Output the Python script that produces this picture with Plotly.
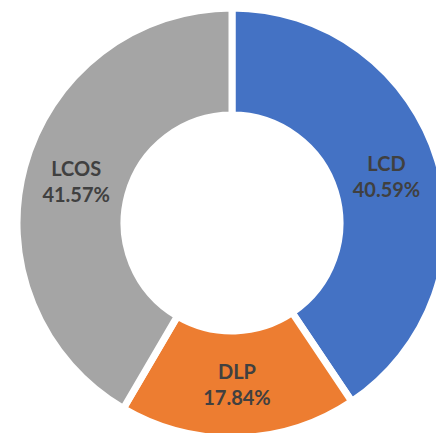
import plotly.graph_objects as go

categories = ["LCD", "DLP", "LCOS"]
shares = [40.59, 17.84, 41.57]
colors = ["#4472C4", "#ED7D31", "#A5A5A5"]

W, H = 444, 433
# page body adds an 8px offset, so figure coords = window coords - 8
cx, cy_top, r = 224, 215, 215

fig = go.Figure(go.Pie(
    labels=categories,
    values=shares,
    sort=False,
    direction="clockwise",
    rotation=0,
    hole=0.502,
    marker=dict(colors=colors, line=dict(color="white", width=7)),
    texttemplate="<b>%{label}</b><br><b>%{value:.2f}%</b>",
    textposition="inside",
    insidetextorientation="horizontal",
    textfont=dict(family="Lato", size=20, color="#404040"),
    showlegend=False,
    domain=dict(x=[(cx - r) / W, (cx + r) / W],
                y=[(H - cy_top - r) / H, (H - cy_top + r) / H]),
))
fig.update_layout(
    width=W, height=H,
    margin=dict(l=0, r=0, t=0, b=0),
    paper_bgcolor="white",
    uniformtext=dict(minsize=20, mode="show"),
)
fig.write_html("out.html")
